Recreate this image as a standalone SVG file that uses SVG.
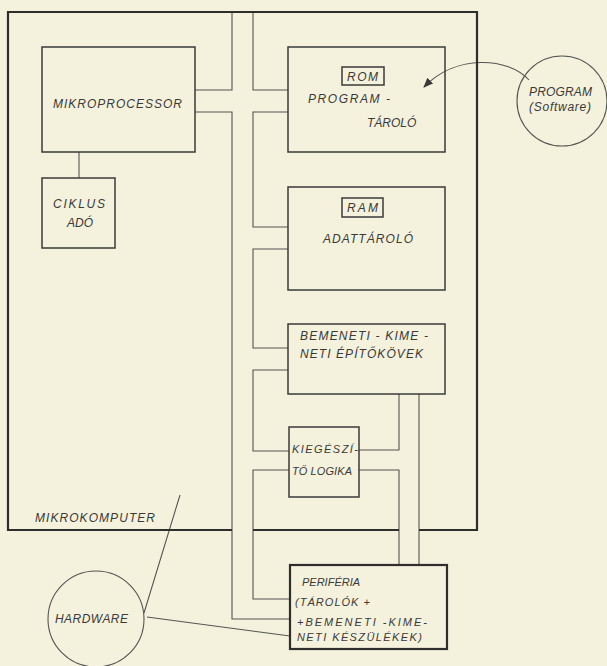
<svg xmlns="http://www.w3.org/2000/svg" width="607" height="666" viewBox="0 0 607 666">
<defs>
<style>
.bg{fill:#f4f1dd}
.box{fill:none;stroke:#3a3a38;stroke-width:1.5}
.thick{fill:none;stroke:#2e2e2c;stroke-width:2.2}
.ln{fill:none;stroke:#555552;stroke-width:1.1}
.circ{fill:none;stroke:#555552;stroke-width:1.1}
text{font-family:"Liberation Sans",Arial,sans-serif;font-style:italic;font-size:12px;fill:#3a3a38}
.sm{font-size:11px}
</style>
<marker id="arr" markerWidth="10" markerHeight="8" refX="9" refY="4" orient="auto" markerUnits="userSpaceOnUse">
<path d="M0,0 L10,4 L0,8 Z" fill="#3a3a38"/>
</marker>
</defs>
<rect class="bg" x="0" y="0" width="607" height="666"/>

<g id="connectors">
<path class="ln" d="M232,12 V90 H195 M195,112 H232 V619 H290"/>
<path class="ln" d="M253,12 V90 H288 M288,112 H253 V227 H288 M288,249 H253 V348 H288 M288,370 H253 V451 H289 M289,470 H253 V599 H290"/>
<path class="ln" d="M399,394 V450 H359 M359,470 H399 V565 M419,394 V565"/>
<path class="ln" d="M79,152 V178"/>
<path class="ln" d="M529,80 C508,57 456,54 424,87" marker-end="url(#arr)"/>
<path class="ln" d="M144,613 L180,495 M147,617 L290,636"/>
</g>

<g id="mikrokomputer">
<path class="thick" d="M232,530 H8 V12 H477 V530 H419 M399,530 H253"/>
<text x="35" y="522" textLength="120" lengthAdjust="spacing">MIKROKOMPUTER</text>
</g>

<g id="mikroprocessor">
<rect class="box" x="42" y="47" width="153" height="105"/>
<text x="53" y="108" textLength="129" lengthAdjust="spacing">MIKROPROCESSOR</text>
</g>

<g id="ciklusado">
<rect class="box" x="42" y="178" width="73" height="70"/>
<text x="53" y="208" textLength="52" lengthAdjust="spacing">CIKLUS</text>
<text x="67" y="227">ADÓ</text>
</g>

<g id="rom">
<rect class="box" x="288" y="47" width="157" height="105"/>
<rect class="box" x="342" y="67" width="42" height="18"/>
<text x="347" y="81" textLength="31" lengthAdjust="spacing">ROM</text>
<text x="308" y="103" textLength="82" lengthAdjust="spacing">PROGRAM -</text>
<text x="367" y="127">TÁROLÓ</text>
</g>

<g id="ram">
<rect class="box" x="288" y="187" width="157" height="103"/>
<rect class="box" x="342" y="198" width="41" height="19"/>
<text x="347" y="212" textLength="31" lengthAdjust="spacing">RAM</text>
<text x="323" y="243" textLength="90" lengthAdjust="spacing">ADATTÁROLÓ</text>
</g>

<g id="bemeneti">
<rect class="box" x="288" y="324" width="157" height="70"/>
<text x="300" y="340" textLength="128" lengthAdjust="spacing">BEMENETI - KIME -</text>
<text x="300" y="358" textLength="123" lengthAdjust="spacing">NETI ÉPÍTŐKÖVEK</text>
</g>

<g id="kiegeszito">
<rect class="box" x="289" y="427" width="70" height="70"/>
<text x="292" y="453" class="sm" textLength="66" lengthAdjust="spacing">KIEGÉSZÍ-</text>
<text x="292" y="475" class="sm" textLength="60" lengthAdjust="spacing">TŐ LOGIKA</text>
</g>

<g id="periferia">
<rect class="thick" x="290" y="565" width="157" height="84"/>
<text x="302" y="586" class="sm">PERIFÉRIA</text>
<text x="295" y="606" class="sm" textLength="75" lengthAdjust="spacing">(TÁROLÓK +</text>
<text x="297" y="626" class="sm" textLength="130" lengthAdjust="spacing">+BEMENETI -KIME-</text>
<text x="297" y="641" class="sm" textLength="125" lengthAdjust="spacing">NETI KÉSZÜLÉKEK)</text>
</g>

<g id="program">
<circle class="circ" cx="562" cy="101" r="45"/>
<text x="529" y="96" textLength="63" lengthAdjust="spacing">PROGRAM</text>
<text x="529" y="111" textLength="62" lengthAdjust="spacing">(Software)</text>
</g>

<g id="hardware">
<circle class="circ" cx="96" cy="619" r="48"/>
<text x="55" y="623" textLength="73" lengthAdjust="spacing">HARDWARE</text>
</g>
</svg>
